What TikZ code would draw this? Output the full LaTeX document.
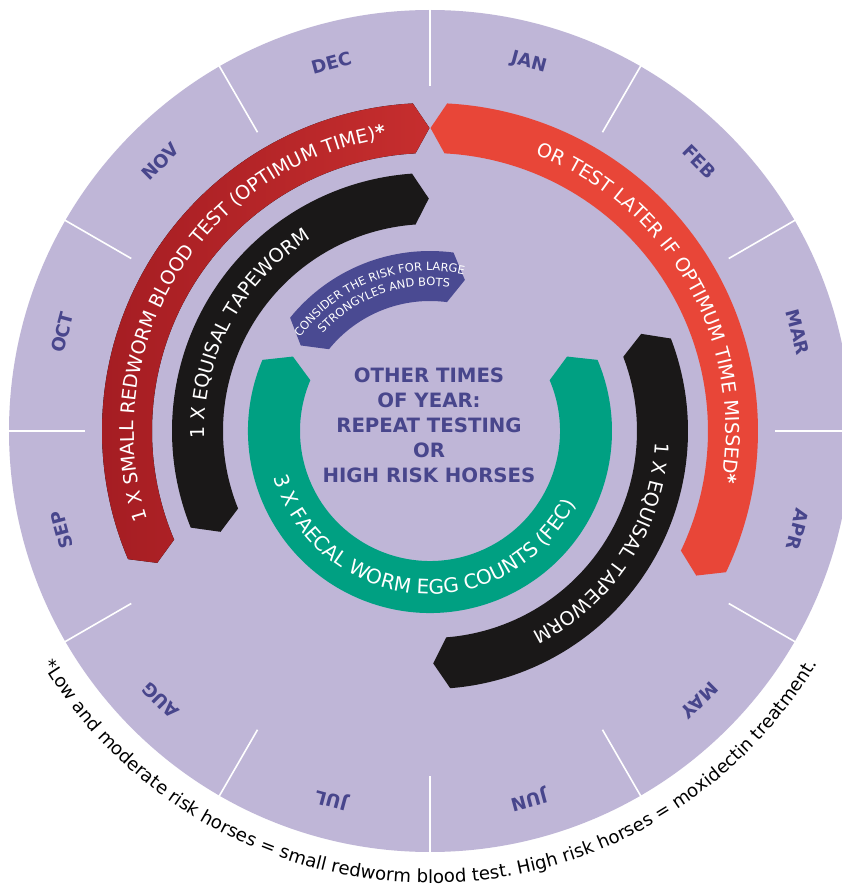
\documentclass[tikz,border=0pt]{standalone}
\usepackage{fontspec}
\setmainfont{DejaVu Sans}
\usetikzlibrary{decorations.text}
\definecolor{bgpurple}{RGB}{191,182,215}
\definecolor{monthc}{RGB}{72,70,140}
\definecolor{redA}{RGB}{163,28,34}
\definecolor{redB}{RGB}{198,46,46}
\definecolor{redC}{RGB}{232,70,56}
\definecolor{blackband}{RGB}{26,24,24}
\definecolor{greenband}{RGB}{0,160,130}
\definecolor{badgec}{RGB}{74,74,146}
\newcommand{\bandfnt}{\fontsize{14.3}{17}\selectfont}
\newcommand{\greenfnt}{\fontsize{15}{18}\selectfont}
\newcommand{\badgefnt}{\fontsize{8.6}{10}\selectfont}
\newcommand{\footfnt}{\fontsize{13.6}{16}\selectfont}
% #1 style, #2 r inner, #3 r outer, #4 r mid, #5 start angle, #6 end angle, #7 tip angle at start, #8 tip angle at end
\newcommand{\mybandfill}[8]{\fill[#1] (#5:#3) arc[start angle=#5, end angle=#6, radius=#3] -- (#8:#4) -- (#6:#2) arc[start angle=#6, end angle=#5, radius=#2] -- (#7:#4) -- cycle;}
% #1 format, #2 text, #3 radius, #4 start angle, #5 end angle, #6 colour
\newcommand{\myarctext}[6]{\path[decorate, decoration={text along path, text align=center, text color=#6, text={|#1|#2}}] (#4:#3) arc[start angle=#4, end angle=#5, radius=#3];}
\begin{document}
\begin{tikzpicture}[x=0.75pt,y=0.75pt,
  monthlabel/.style={text=monthc, font=\fontsize{13.6}{16}\selectfont\bfseries, inner sep=0pt},
  centertext/.style={text=monthc, font=\fontsize{14.8}{17}\selectfont\bfseries, inner sep=0pt, anchor=base},
  divider/.style={white, line width=1.2pt}]
\fill[white] (-430,-461) rectangle (412,431);
\useasboundingbox (-430,-461) rectangle (412,431);
% disc
\fill[bgpurple] (0,0) circle[radius=421];
\foreach \a in {0,30,...,330} \draw[divider] (\a:345) -- (\a:423);
% bands
\mybandfill{left color=redA,right color=redB}{278}{328}{303}{203}{93}{205.8}{90.1}
\mybandfill{redC}{278}{328}{303}{87}{-25.5}{89.9}{-28.5}
\mybandfill{blackband}{207}{258}{232.5}{202}{94}{205.7}{90.3}
\mybandfill{blackband}{207}{258}{232.5}{21}{-85.5}{24.7}{-89.2}
\mybandfill{greenband}{130}{182}{156}{157}{383}{151.5}{388.5}
\mybandfill{badgec}{130}{180}{155}{141}{82.5}{146.5}{77}
% band texts
\myarctext{\bandfnt}{1 X SMALL REDWORM BLOOD TEST (OPTIMUM TIME)|\bandfnt\bfseries|*}{296}{203}{93}{white}
\myarctext{\bandfnt}{OR TEST LATER IF OPTIMUM TIME MISSED|\bandfnt\bfseries|*}{296}{80}{-21}{white}
\myarctext{\bandfnt}{1 X EQUISAL TAPEWORM}{225.7}{200}{103.7}{white}
\myarctext{\bandfnt}{1 X EQUISAL TAPEWORM}{225.7}{20}{-86}{white}
\myarctext{\greenfnt}{3 X FAECAL WORM EGG COUNTS (FEC)}{163}{190}{340}{white}
\myarctext{\badgefnt}{CONSIDER THE RISK FOR LARGE}{160}{150}{72}{white}
\myarctext{\badgefnt}{STRONGYLES AND BOTS}{145}{150}{70}{white}
% months
\foreach \m [count=\i from 0] in {DEC,NOV,OCT,SEP,AUG,JUL,JUN,MAY,APR,MAR,FEB,JAN} {
  \pgfmathsetmacro\ang{105+30*\i}
  \pgfmathsetmacro\rot{15+30*\i}
  \node[monthlabel, rotate=\rot] (m\i) at (\ang:381) {\m};
}
% centre text
\node[centertext] (c1) at (-1,48) {OTHER TIMES};
\node[centertext] (c2) at (-1,23) {OF YEAR:};
\node[centertext] (c3) at (-1,-2) {REPEAT TESTING};
\node[centertext] (c4) at (-1,-27) {OR};
\node[centertext] (c5) at (-1,-52) {HIGH RISK HORSES};
% footnote
\myarctext{\footfnt}{*Low and moderate risk horses = small redworm blood test. High risk horses = moxidectin treatment.}{452}{205}{335}{black}
\end{tikzpicture}
\end{document}
